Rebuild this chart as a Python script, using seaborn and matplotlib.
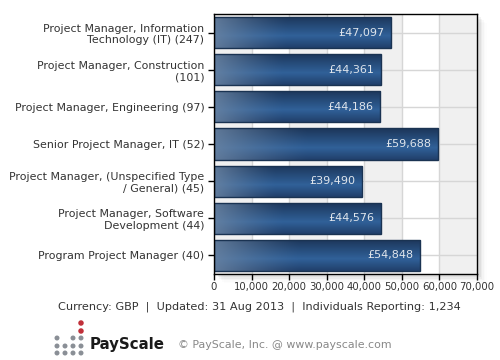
import numpy as np
import pandas as pd
import matplotlib
matplotlib.use("Agg")
import matplotlib.pyplot as plt
from matplotlib.patches import Rectangle, Ellipse
import seaborn as sns

categories = [
    "Project Manager, Information\nTechnology (IT) (247)",
    "Project Manager, Construction\n(101)",
    "Project Manager, Engineering (97)",
    "Senior Project Manager, IT (52)",
    "Project Manager, (Unspecified Type\n/ General) (45)",
    "Project Manager, Software\nDevelopment (44)",
    "Program Project Manager (40)",
]
salaries = [47097, 44361, 44186, 59688, 39490, 44576, 54848]
value_labels = ["£47,097", "£44,361", "£44,186", "£59,688", "£39,490", "£44,576", "£54,848"]
x_ticks = [0, 10000, 20000, 30000, 40000, 50000, 60000, 70000]
x_tick_labels = ["0", "10,000", "20,000", "30,000", "40,000", "50,000", "60,000", "70,000"]
footer = "Currency: GBP  |  Updated: 31 Aug 2013  |  Individuals Reporting: 1,234"
copyright_text = "© PayScale, Inc. @ www.payscale.com"

sns.set_style("white")
plt.rcParams["font.family"] = ["DejaVu Sans"]

df = pd.DataFrame({"job": categories, "salary": salaries})

fig = plt.figure(figsize=(5, 3.6), dpi=100)
ax = fig.add_axes([0.428, 0.239, 0.526, 0.722])
ax.set_zorder(2)

# soft shadow behind plot area
for i, a in enumerate([0.10, 0.07, 0.045, 0.025, 0.012]):
    off = (i + 1) * 1.6
    fig.patches.append(Rectangle((0.428 + off / 500 + 0.004, 0.239 - off / 360 - 0.004),
                                 0.526, 0.722, transform=fig.transFigure,
                                 facecolor="#808080", alpha=a, edgecolor="none", zorder=-1))

sns.barplot(data=df, x="salary", y="job", orient="h", color="#2a4f7c",
            width=0.84, edgecolor="#1a3352", linewidth=1.0, ax=ax, zorder=3)
bars = list(ax.containers[0].patches) if hasattr(ax.containers[0], "patches") else list(ax.containers[0])

ax.set_facecolor("white")

# alternating background bands
for i in range(0, 7, 2):
    ax.axvspan(x_ticks[i], x_ticks[i] + 10000, color="#f0f0f0", zorder=0, lw=0)
for xt in x_ticks[1:-1]:
    ax.axvline(xt, color="#d6d6d6", lw=1, zorder=1)
for yi in range(len(categories)):
    ax.axhline(yi, color="#d6d6d6", lw=1, zorder=1)

# gradient fill for bars
ny, nx = 40, 200
yy = np.linspace(0, 1, ny)[:, None]
xx = np.linspace(0, 1, nx)[None, :]
top = np.array([0.11, 0.21, 0.35])
mid = np.array([0.19, 0.38, 0.60])
bot = np.array([0.13, 0.25, 0.42])
t = yy[..., None]
vert = np.where(t < 0.62, top + (mid - top) * (t / 0.62), mid + (bot - mid) * ((t - 0.62) / 0.38))
light = np.array([0.42, 0.52, 0.64])
w = np.clip(1 - xx / 0.42, 0, 1)[..., None] ** 1.3 * 0.85
grad = np.clip(vert * (1 - w) + light * w, 0, 1)

for p in bars:
    x0, y0 = p.get_x(), p.get_y()
    wd, ht = p.get_width(), p.get_height()
    im = ax.imshow(grad, extent=(x0, x0 + wd, y0 + ht, y0), origin="upper",
                   aspect="auto", zorder=3.5, interpolation="bilinear")
    im.set_clip_path(p)
    p.set_facecolor("none")
    p.set_zorder(4)

ax.set_xlim(0, 70000)
ax.set_ylim(len(categories) - 0.5, -0.5)

for yi, (v, lab) in enumerate(zip(salaries, value_labels)):
    ax.annotate(lab, xy=(v, yi), xytext=(-5, 0), textcoords="offset points",
                ha="right", va="center", color="#dfe5ec", fontsize=8, zorder=6)

ax.set_xticks(x_ticks)
ax.set_xticklabels(x_tick_labels)
ax.set_xlabel("")
ax.set_ylabel("")
ax.tick_params(axis="x", direction="out", length=4, width=1, color="black",
               labelsize=7.3, labelcolor="#333333", pad=2, bottom=True)
ax.tick_params(axis="y", direction="out", length=4, width=1, color="black",
               labelsize=7.9, labelcolor="#333333", pad=3, left=True)
for lab in ax.get_yticklabels():
    lab.set_multialignment("right")
for s in ax.spines.values():
    s.set_visible(True)
    s.set_color("black")
    s.set_linewidth(1)
    s.set_zorder(7)

fig.text(0.519, 0.148, footer, ha="center", va="center", fontsize=8.1, color="#333333")

# logo dots
gray_dots = [(0, 338), (2, 338), (3, 338),
             (0, 346), (1, 346), (2, 346), (3, 346),
             (0, 353), (1, 353), (2, 353), (3, 353)]
red_dots = [(3, 323), (3, 331)]
for col, ypx in gray_dots:
    fig.patches.append(Ellipse(((57 + col * 8) / 500, 1 - ypx / 360), 5 / 500, 5 / 360,
                               transform=fig.transFigure, facecolor="#8a8f96", edgecolor="none"))
for col, ypx in red_dots:
    fig.patches.append(Ellipse(((57 + col * 8) / 500, 1 - ypx / 360), 5.5 / 500, 5.5 / 360,
                               transform=fig.transFigure, facecolor="#c0303a", edgecolor="none"))
fig.text(0.180, 0.042, "PayScale", ha="left", va="center", fontsize=10.8,
         fontweight="bold", color="#1a1a1a")
fig.text(0.356, 0.042, copyright_text, ha="left", va="center", fontsize=7.9, color="#888888")

fig.savefig("out.png", dpi=100)
